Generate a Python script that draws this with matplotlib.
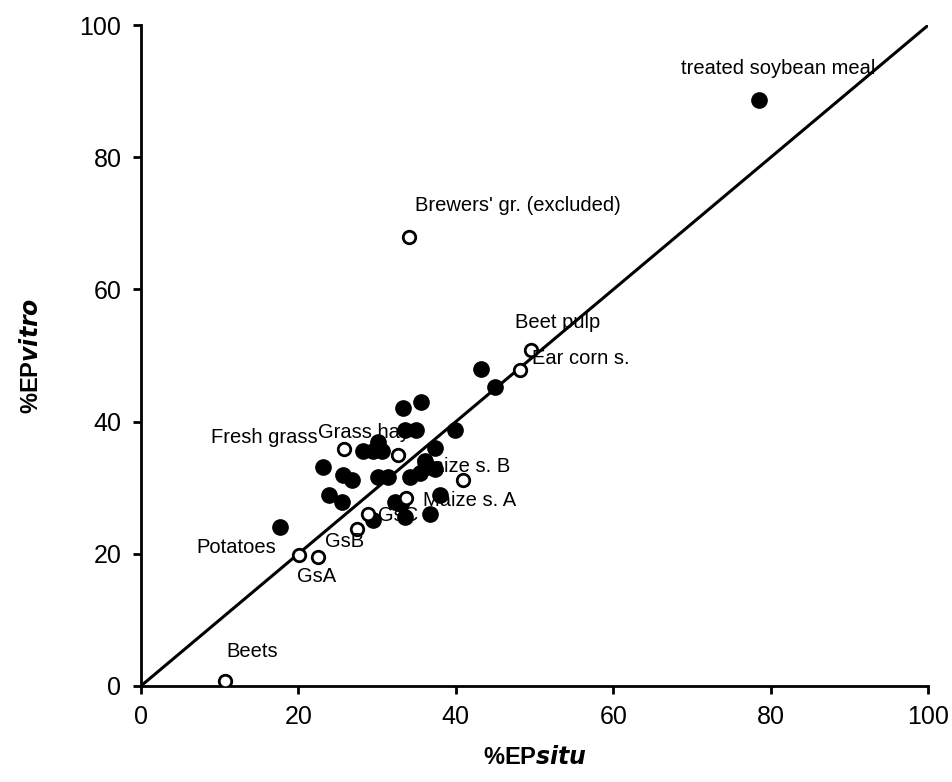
import matplotlib
matplotlib.use("Agg")
import matplotlib.pyplot as plt

plt.rcParams['font.family'] = ['Liberation Sans', 'DejaVu Sans']

# filled points (%EP situ, %EP vitro)
filled_x = [78.5, 43.2, 45.0, 35.6, 33.3, 33.5, 35.0, 39.9, 30.1, 28.2, 29.5, 30.6,
            37.3, 36.1, 23.1, 25.7, 26.8, 30.1, 31.4, 34.2, 35.4, 36.3, 37.3,
            23.9, 25.5, 32.3, 33.1, 38.0, 36.7, 33.5, 29.5, 17.7]
filled_y = [88.7, 48.0, 45.2, 42.9, 42.0, 38.8, 38.7, 38.7, 36.9, 35.6, 35.6, 35.5,
            36.0, 34.1, 33.1, 31.9, 31.1, 31.6, 31.6, 31.6, 32.2, 33.1, 32.8,
            28.9, 27.8, 27.8, 27.6, 28.9, 26.1, 25.5, 25.1, 24.0]

# open points
open_x = [34.1, 49.5, 48.2, 25.8, 32.7, 40.9, 33.7, 28.9, 27.4, 20.1, 22.5, 10.7]
open_y = [68.0, 50.9, 47.8, 35.8, 35.0, 31.2, 28.5, 26.0, 23.8, 19.8, 19.5, 0.8]

# labels with their left-edge positions
labels = ["treated soybean meal", "Brewers' gr. (excluded)", "Beet pulp", "Ear corn s.",
          "Fresh grass", "Grass hay", "Maize s. B", "Maize s. A", "GsC", "GsB",
          "Potatoes", "GsA", "Beets"]
label_x = [68.6, 34.8, 47.5, 49.7, 8.9, 22.5, 35.0, 35.8, 30.1, 23.4, 7.1, 19.8, 10.9]
label_y = [93.4, 72.7, 55.0, 49.5, 37.6, 38.4, 33.2, 28.1, 25.8, 21.8, 21.0, 16.5, 5.2]

fig = plt.figure(figsize=(9.52, 7.82), dpi=100)
ax = fig.add_axes([0.148, 0.1228, 0.827, 0.845])

ax.plot([0, 100], [0, 100], color='black', lw=2.2, zorder=1)
ax.plot(filled_x, filled_y, 'o', color='black', markersize=11, zorder=3)
ax.plot(open_x, open_y, 'o', markerfacecolor='white', markeredgecolor='black',
        markersize=9, markeredgewidth=2, zorder=3)

for t, x, y in zip(labels, label_x, label_y):
    ax.text(x, y, t, fontsize=14.5, ha='left', va='center', zorder=4)

ax.set_xlim(0, 100)
ax.set_ylim(0, 100)
ax.set_xticks([0, 20, 40, 60, 80, 100])
ax.set_yticks([0, 20, 40, 60, 80, 100])
ax.tick_params(labelsize=18, width=2, length=6, direction='out', pad=8)
for s in ['top', 'right']:
    ax.spines[s].set_visible(False)
for s in ['left', 'bottom']:
    ax.spines[s].set_linewidth(2)

ax.set_xlabel(r'%EP$\mathbfit{situ}$', fontsize=17, fontweight='bold', labelpad=12)
ax.set_ylabel(r'%EP$\mathbfit{vitro}$', fontsize=17, fontweight='bold', labelpad=26)

fig.savefig('out.png', dpi=100)
